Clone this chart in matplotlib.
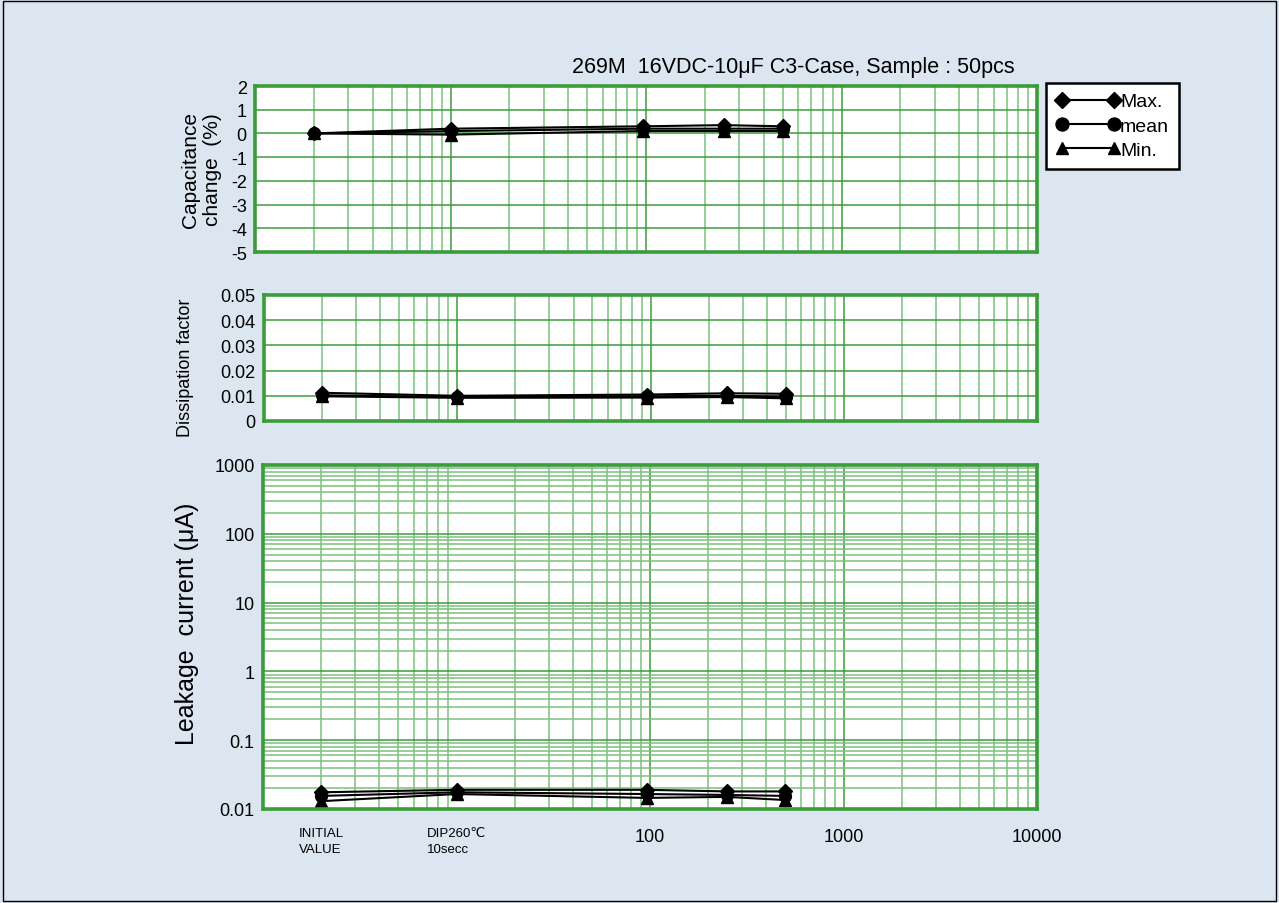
import matplotlib
matplotlib.use("Agg")
import matplotlib.pyplot as plt
from matplotlib.ticker import LogLocator, FixedLocator, NullFormatter
from matplotlib.patches import Rectangle

plt.rcParams['font.family'] = ['Liberation Sans', 'DejaVu Sans']
plt.rcParams['axes.unicode_minus'] = False

# ---- data ----
x_hours = [2, 10, 96, 250, 500]
cap_max = [0.0, 0.2, 0.3, 0.35, 0.3]
cap_mean = [0.0, 0.1, 0.2, 0.2, 0.2]
cap_min = [0.0, -0.05, 0.1, 0.1, 0.1]
df_max = [0.0112, 0.0100, 0.0105, 0.0110, 0.0108]
df_mean = [0.0102, 0.0095, 0.0098, 0.0100, 0.0097]
df_min = [0.0098, 0.0092, 0.0093, 0.0095, 0.0090]
lc_max = [0.0175, 0.0190, 0.0190, 0.0180, 0.0180]
lc_mean = [0.0155, 0.0175, 0.0165, 0.0160, 0.0155]
lc_min = [0.0130, 0.0165, 0.0145, 0.0150, 0.0135]
series_names = ['Max.', 'mean', 'Min.']
series_markers = ['D', 'o', '^']
x_tick_values = [100, 1000, 10000]
x_tick_labels = ['100', '1000', '10000']
cat_label_pos = [2, 10]
cat_labels = ['INITIAL\nVALUE', 'DIP260\u2103\n10secc']
title = '269M  16VDC-10\u03bcF C3-Case, Sample : 50pcs'

BG = '#dce6f1'
GREEN = '#3a9c3a'
GREEN_L = '#7cc07c'

W, H = 1279, 904
fig = plt.figure(figsize=(W / 100, H / 100), dpi=100, facecolor=BG)


def rect(l, t, r, b):
    return [l / W, 1 - b / H, (r - l) / W, (b - t) / H]


ax1 = fig.add_axes(rect(255, 87, 1037, 253))
ax2 = fig.add_axes(rect(264, 296, 1037, 422))
ax3 = fig.add_axes(rect(263, 466, 1037, 810))

MS = {'D': 7.5, 'o': 8.5, '^': 8.5}


def style(ax):
    ax.set_facecolor('white')
    ax.set_xscale('log')
    ax.set_xlim(1, 10000)
    ax.xaxis.set_major_locator(LogLocator(base=10, numticks=10))
    ax.xaxis.set_minor_locator(LogLocator(base=10, subs=range(2, 10), numticks=20))
    ax.grid(True, which='major', axis='both', color=GREEN, lw=1.1)
    ax.grid(True, which='minor', axis='x', color=GREEN_L, lw=1.1)
    for s in ax.spines.values():
        s.set_color(GREEN)
        s.set_linewidth(2.6)
    ax.tick_params(which='both', length=0, labelsize=13, pad=6)
    ax.tick_params(axis='x', which='both', labelbottom=False)
    ax.set_axisbelow(True)


for ax in (ax1, ax2, ax3):
    style(ax)

# top panel
ax1.set_ylim(-5, 2)
ax1.yaxis.set_major_locator(FixedLocator(range(-5, 3)))
ax1.set_ylabel('Capacitance\nchange  (%)', fontsize=15, linespacing=1.2)
ax1.yaxis.set_label_coords((222 - 255) / 782, (253 - 170) / 166)
handles = []
for vals, m, n in zip([cap_max, cap_mean, cap_min], series_markers, series_names):
    h, = ax1.plot(x_hours, vals, color='black', lw=1.5, marker=m, ms=MS[m], label=n)
    handles.append(h)

# middle panel
ax2.set_ylim(0, 0.05)
ax2.yaxis.set_major_locator(FixedLocator([0, 0.01, 0.02, 0.03, 0.04, 0.05]))
ax2.set_yticklabels(['0', '0.01', '0.02', '0.03', '0.04', '0.05'])
ax2.set_ylabel('Dissipation factor', fontsize=13)
ax2.yaxis.set_label_coords((194 - 264) / 773, (422 - 368) / 126)
for vals, m in zip([df_max, df_mean, df_min], series_markers):
    ax2.plot(x_hours, vals, color='black', lw=1.5, marker=m, ms=MS[m])

# bottom panel
ax3.set_yscale('log')
ax3.set_ylim(0.01, 1000)
ax3.yaxis.set_major_locator(FixedLocator([0.01, 0.1, 1, 10, 100, 1000]))
ax3.set_yticklabels(['0.01', '0.1', '1', '10', '100', '1000'])
ax3.yaxis.set_minor_locator(LogLocator(base=10, subs=range(2, 10), numticks=20))
ax3.yaxis.set_minor_formatter(NullFormatter())
ax3.grid(True, which='minor', axis='y', color=GREEN_L, lw=1.1)
ax3.set_ylabel('Leakage  current (\u03bcA)', fontsize=18)
ax3.yaxis.set_label_coords((199 - 263) / 774, (810 - 624) / 344)
for vals, m in zip([lc_max, lc_mean, lc_min], series_markers):
    ax3.plot(x_hours, vals, color='black', lw=1.5, marker=m, ms=MS[m])

ax3.set_xticks(x_tick_values)
ax3.set_xticklabels(x_tick_labels)
ax3.tick_params(axis='x', which='major', labelbottom=True, labelsize=13, pad=14)
for xp, lab in zip(cat_label_pos, cat_labels):
    ax3.text(xp, -0.053, lab, transform=ax3.get_xaxis_transform(), ha='center', va='top',
             multialignment='left', fontsize=9.5, linespacing=1.45)

fig.text(1015 / W, 1 - 67 / H, title, ha='right', va='center', fontsize=15.5)

leg = fig.legend(handles=handles, loc='upper left', bbox_to_anchor=(1046 / W, 1 - 84 / H),
                 fontsize=14, numpoints=2, handlelength=3.3, handletextpad=0.0,
                 markerscale=1.1, frameon=True, fancybox=False, borderpad=0.5,
                 labelspacing=0.35, borderaxespad=0)
leg.get_frame().set_edgecolor('black')
leg.get_frame().set_linewidth(1.8)
leg.get_frame().set_facecolor('white')
leg.get_frame().set_alpha(1)

fig.patches.append(Rectangle((0.002, 0.002), 0.996, 0.996, transform=fig.transFigure,
                             fill=False, edgecolor='black', lw=1.0))

fig.savefig('out.png', dpi=100, facecolor=BG)
